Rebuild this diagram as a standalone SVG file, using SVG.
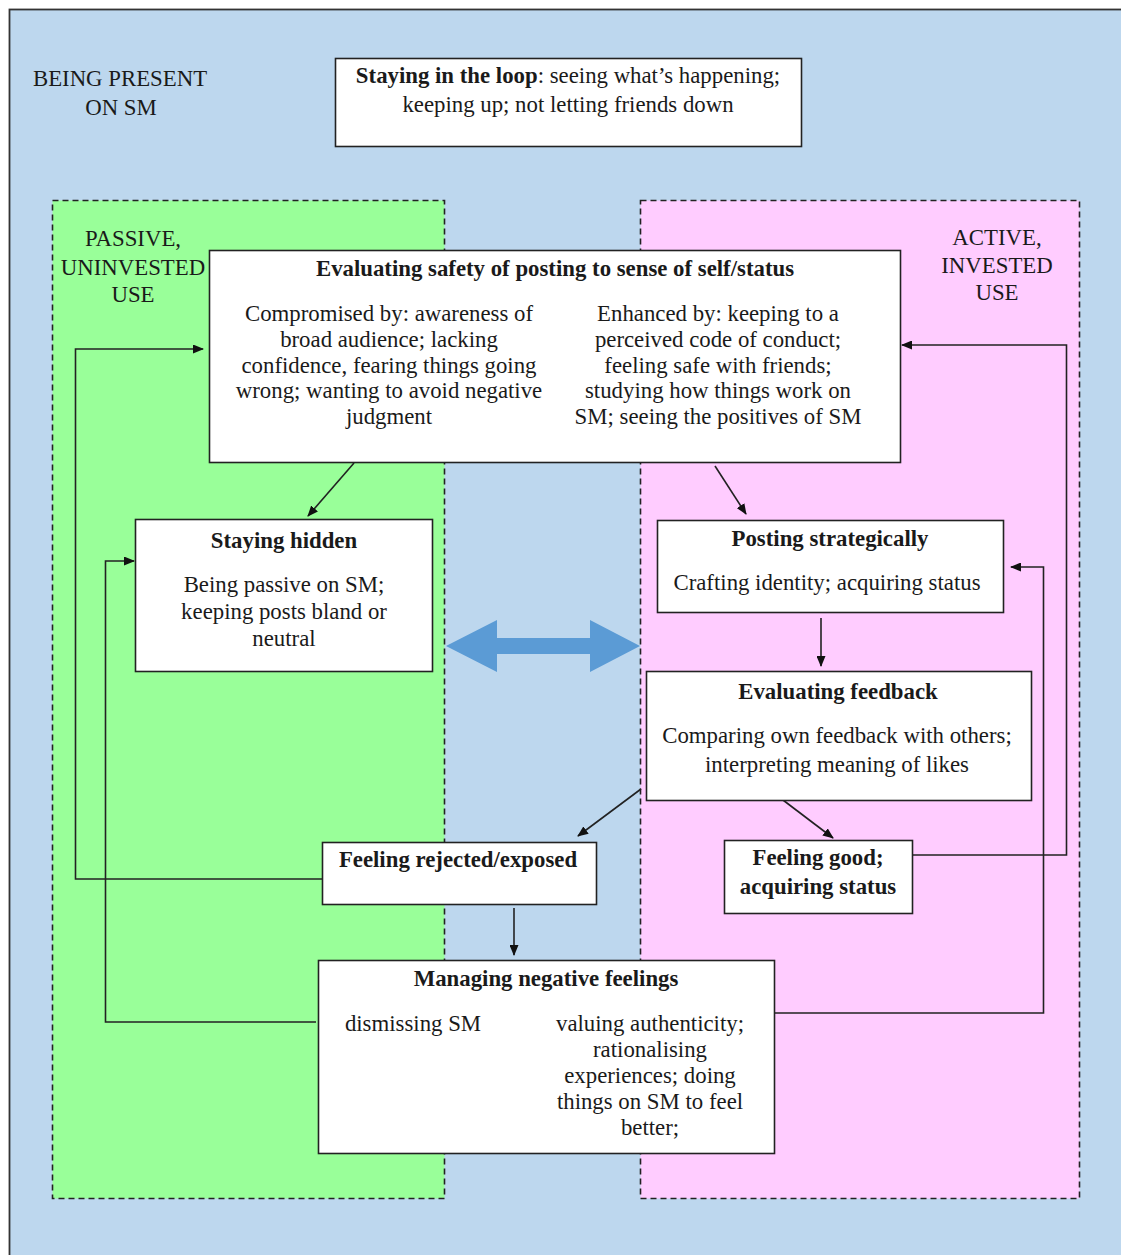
<svg xmlns="http://www.w3.org/2000/svg" width="1121" height="1255" viewBox="0 0 1121 1255">
<defs>
<marker id="ah" markerUnits="userSpaceOnUse" markerWidth="11" markerHeight="9" refX="10" refY="4.5" orient="auto">
<path d="M0,0 L11,4.5 L0,9 z" fill="#111"/>
</marker>
<style>
.t{font-family:"Liberation Serif","Times New Roman",serif;font-size:22.8px;fill:#1a1a1a;text-anchor:middle}
.b{font-weight:bold}
.box{fill:#fff;stroke:#222;stroke-width:1.6}
.zone{stroke:#222;stroke-width:1.6;stroke-dasharray:6 4}
.c{fill:none;stroke:#222;stroke-width:1.6}
.ca{fill:none;stroke:#222;stroke-width:1.6;marker-end:url(#ah)}
</style>
</defs>
<rect x="0" y="0" width="1121" height="1255" fill="#fff"/>
<rect id="outer" x="9.5" y="9.5" width="1200" height="1300" fill="#BDD7EE" stroke="#333" stroke-width="1.8"/>
<g id="zone-passive">
<rect class="zone" x="52.5" y="200.5" width="392" height="998" fill="#99FF99"/>
</g>
<g id="zone-active">
<rect class="zone" x="640.5" y="200.5" width="439" height="998" fill="#FFCCFF"/>
</g>
<g id="label-present">
<text class="t" x="120" y="86">BEING PRESENT</text>
<text class="t" x="121" y="115">ON SM</text>
</g>
<g id="label-passive">
<text class="t" x="133" y="246">PASSIVE,</text>
<text class="t" x="133" y="275">UNINVESTED</text>
<text class="t" x="133" y="302">USE</text>
</g>
<g id="label-active">
<text class="t" x="997" y="245">ACTIVE,</text>
<text class="t" x="997" y="273">INVESTED</text>
<text class="t" x="997" y="300">USE</text>
</g>
<g id="blue-arrow">
<polygon points="446,646 497,620 497,638 590,638 590,620 640,646 590,672 590,654 497,654 497,672" fill="#5B9BD5"/>
</g>
<g id="connectors">
<path class="ca" d="M354,463 L308,516"/>
<path class="ca" d="M715,466 L746,514"/>
<path class="ca" d="M821,618 L821,666"/>
<path class="ca" d="M641,789 L578,836"/>
<path class="ca" d="M779,797 L833,838"/>
<path class="ca" d="M514,908 L514,955"/>
<path class="ca" d="M322,879 L75.5,879 L75.5,349 L203,349"/>
<path class="ca" d="M316,1022 L105.5,1022 L105.5,561 L134,561"/>
<path class="ca" d="M908,855 L1066.5,855 L1066.5,345 L902,345"/>
<path class="ca" d="M775,1013 L1043.5,1013 L1043.5,567 L1011,567"/>
</g>
<g id="node-loop">
<rect class="box" x="335.5" y="58.5" width="466" height="88"/>
<text class="t" x="568" y="83"><tspan class="b">Staying in the loop</tspan>: seeing what’s happening;</text>
<text class="t" x="568" y="112">keeping up; not letting friends down</text>
</g>
<g id="node-safety">
<rect class="box" x="209.5" y="250.5" width="691" height="212"/>
<text class="t b" x="555" y="276">Evaluating safety of posting to sense of self/status</text>
<text class="t" x="389" y="321">Compromised by: awareness of</text>
<text class="t" x="389" y="347">broad audience; lacking</text>
<text class="t" x="389" y="373">confidence, fearing things going</text>
<text class="t" x="389" y="398">wrong; wanting to avoid negative</text>
<text class="t" x="389" y="424">judgment</text>
<text class="t" x="718" y="321">Enhanced by: keeping to a</text>
<text class="t" x="718" y="347">perceived code of conduct;</text>
<text class="t" x="718" y="373">feeling safe with friends;</text>
<text class="t" x="718" y="398">studying how things work on</text>
<text class="t" x="718" y="424">SM; seeing the positives of SM</text>
</g>
<g id="node-hidden">
<rect class="box" x="135.5" y="519.5" width="297" height="152"/>
<text class="t b" x="284" y="548">Staying hidden</text>
<text class="t" x="284" y="592">Being passive on SM;</text>
<text class="t" x="284" y="619">keeping posts bland or</text>
<text class="t" x="284" y="646">neutral</text>
</g>
<g id="node-posting">
<rect class="box" x="657.5" y="520.5" width="346" height="92"/>
<text class="t b" x="830" y="546">Posting strategically</text>
<text class="t" x="827" y="590">Crafting identity; acquiring status</text>
</g>
<g id="node-feedback">
<rect class="box" x="646.5" y="671.5" width="385" height="129"/>
<text class="t b" x="838" y="699">Evaluating feedback</text>
<text class="t" x="837" y="743">Comparing own feedback with others;</text>
<text class="t" x="837" y="772">interpreting meaning of likes</text>
</g>
<g id="node-rejected">
<rect class="box" x="322.5" y="842.5" width="274" height="62"/>
<text class="t b" x="458" y="867">Feeling rejected/exposed</text>
</g>
<g id="node-good">
<rect class="box" x="724.5" y="840.5" width="188" height="73"/>
<text class="t b" x="818" y="865">Feeling good;</text>
<text class="t b" x="818" y="894">acquiring status</text>
</g>
<g id="node-managing">
<rect class="box" x="318.5" y="960.5" width="456" height="193"/>
<text class="t b" x="546" y="986">Managing negative feelings</text>
<text class="t" x="413" y="1031">dismissing SM</text>
<text class="t" x="650" y="1031">valuing authenticity;</text>
<text class="t" x="650" y="1057">rationalising</text>
<text class="t" x="650" y="1083">experiences; doing</text>
<text class="t" x="650" y="1109">things on SM to feel</text>
<text class="t" x="650" y="1135">better;</text>
</g>
</svg>
